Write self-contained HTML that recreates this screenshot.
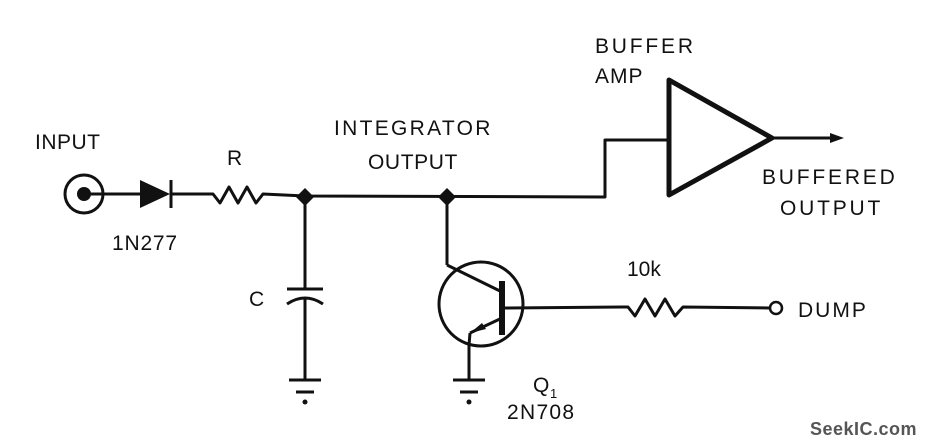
<!DOCTYPE html>
<html><head><style>body{margin:0;background:#fff}svg{display:block}text{font-family:"Liberation Sans",sans-serif;fill:#111}</style></head><body>
<svg width="930" height="446" viewBox="0 0 930 446" xmlns="http://www.w3.org/2000/svg">
<g stroke="#111" stroke-width="3" fill="none" stroke-linejoin="round">
<circle cx="84" cy="194" r="19"/>
<line x1="84" y1="194" x2="140" y2="194"/>
<line x1="171" y1="194" x2="207" y2="194"/>
<line x1="171" y1="180" x2="171" y2="208"/>
<polyline points="207,194 213,194 220,203 229,187 238,203 247,187 256,203 263,194 305,196 605,197 605,140 669,140"/>
<line x1="305" y1="196" x2="305" y2="289"/>
<line x1="287" y1="289" x2="323" y2="289"/>
<path d="M287,304 Q305,292 323,304"/>
<line x1="305" y1="297" x2="305" y2="380"/>
<line x1="289" y1="380" x2="321" y2="380"/>
<line x1="296" y1="392" x2="314" y2="392"/>
<line x1="447" y1="197" x2="447" y2="265"/>
<circle cx="481" cy="304" r="42"/>
<line x1="447" y1="265" x2="502" y2="292"/>
<line x1="502" y1="308" x2="622" y2="307"/>
<polyline points="622,307 628,307 635,316 645,299 655,316 665,299 675,316 683,307 770,308"/>
<circle cx="776" cy="308" r="6" stroke-width="2.5"/>
<line x1="502" y1="318" x2="470" y2="333"/>
<polyline points="470,333 469,345 469,380"/>
<line x1="453" y1="380" x2="485" y2="380"/>
<line x1="460" y1="392" x2="478" y2="392"/>
<polygon points="669,80 669,195 772,138" stroke-width="5"/>
<line x1="772" y1="138" x2="830" y2="138"/>
</g>
<line x1="502" y1="281" x2="502" y2="335" stroke="#111" stroke-width="6"/>
<g fill="#111">
<circle cx="84" cy="194" r="7"/>
<polygon points="140,180 140,208 170,194"/>
<polygon points="305,188 314,197 305,206 296,197"/>
<polygon points="447,188 456,197 447,206 438,197"/>
<polygon points="844,138 830,133 830,143"/>
<polygon points="470,333 482,323 486,329"/>
<circle cx="305" cy="402" r="2.5"/>
<circle cx="469" cy="402" r="2.5"/>
</g>
<g font-size="21">
<text x="35" y="149" letter-spacing="0.5">INPUT</text>
<text x="112" y="250" letter-spacing="0.8">1N277</text>
<text x="227" y="165">R</text>
<text x="249" y="306">C</text>
<text x="334" y="135" letter-spacing="2.3">INTEGRATOR</text>
<text x="368" y="169" letter-spacing="0.6">OUTPUT</text>
<text x="595" y="53" letter-spacing="2.8">BUFFER</text>
<text x="595" y="83" letter-spacing="1">AMP</text>
<text x="762" y="184" letter-spacing="2.8">BUFFERED</text>
<text x="780" y="215" letter-spacing="2.8">OUTPUT</text>
<text x="627" y="276">10k</text>
<text x="798" y="317" letter-spacing="2">DUMP</text>
<text x="533" y="392">Q</text>
<text x="550" y="398" font-size="13">1</text>
<text x="507" y="419" letter-spacing="1.3">2N708</text>
</g>
<text x="810" y="435" font-size="18" font-weight="bold" letter-spacing="0.5" style="fill:#555">SeekIC.com</text>
</svg>
</body></html>
